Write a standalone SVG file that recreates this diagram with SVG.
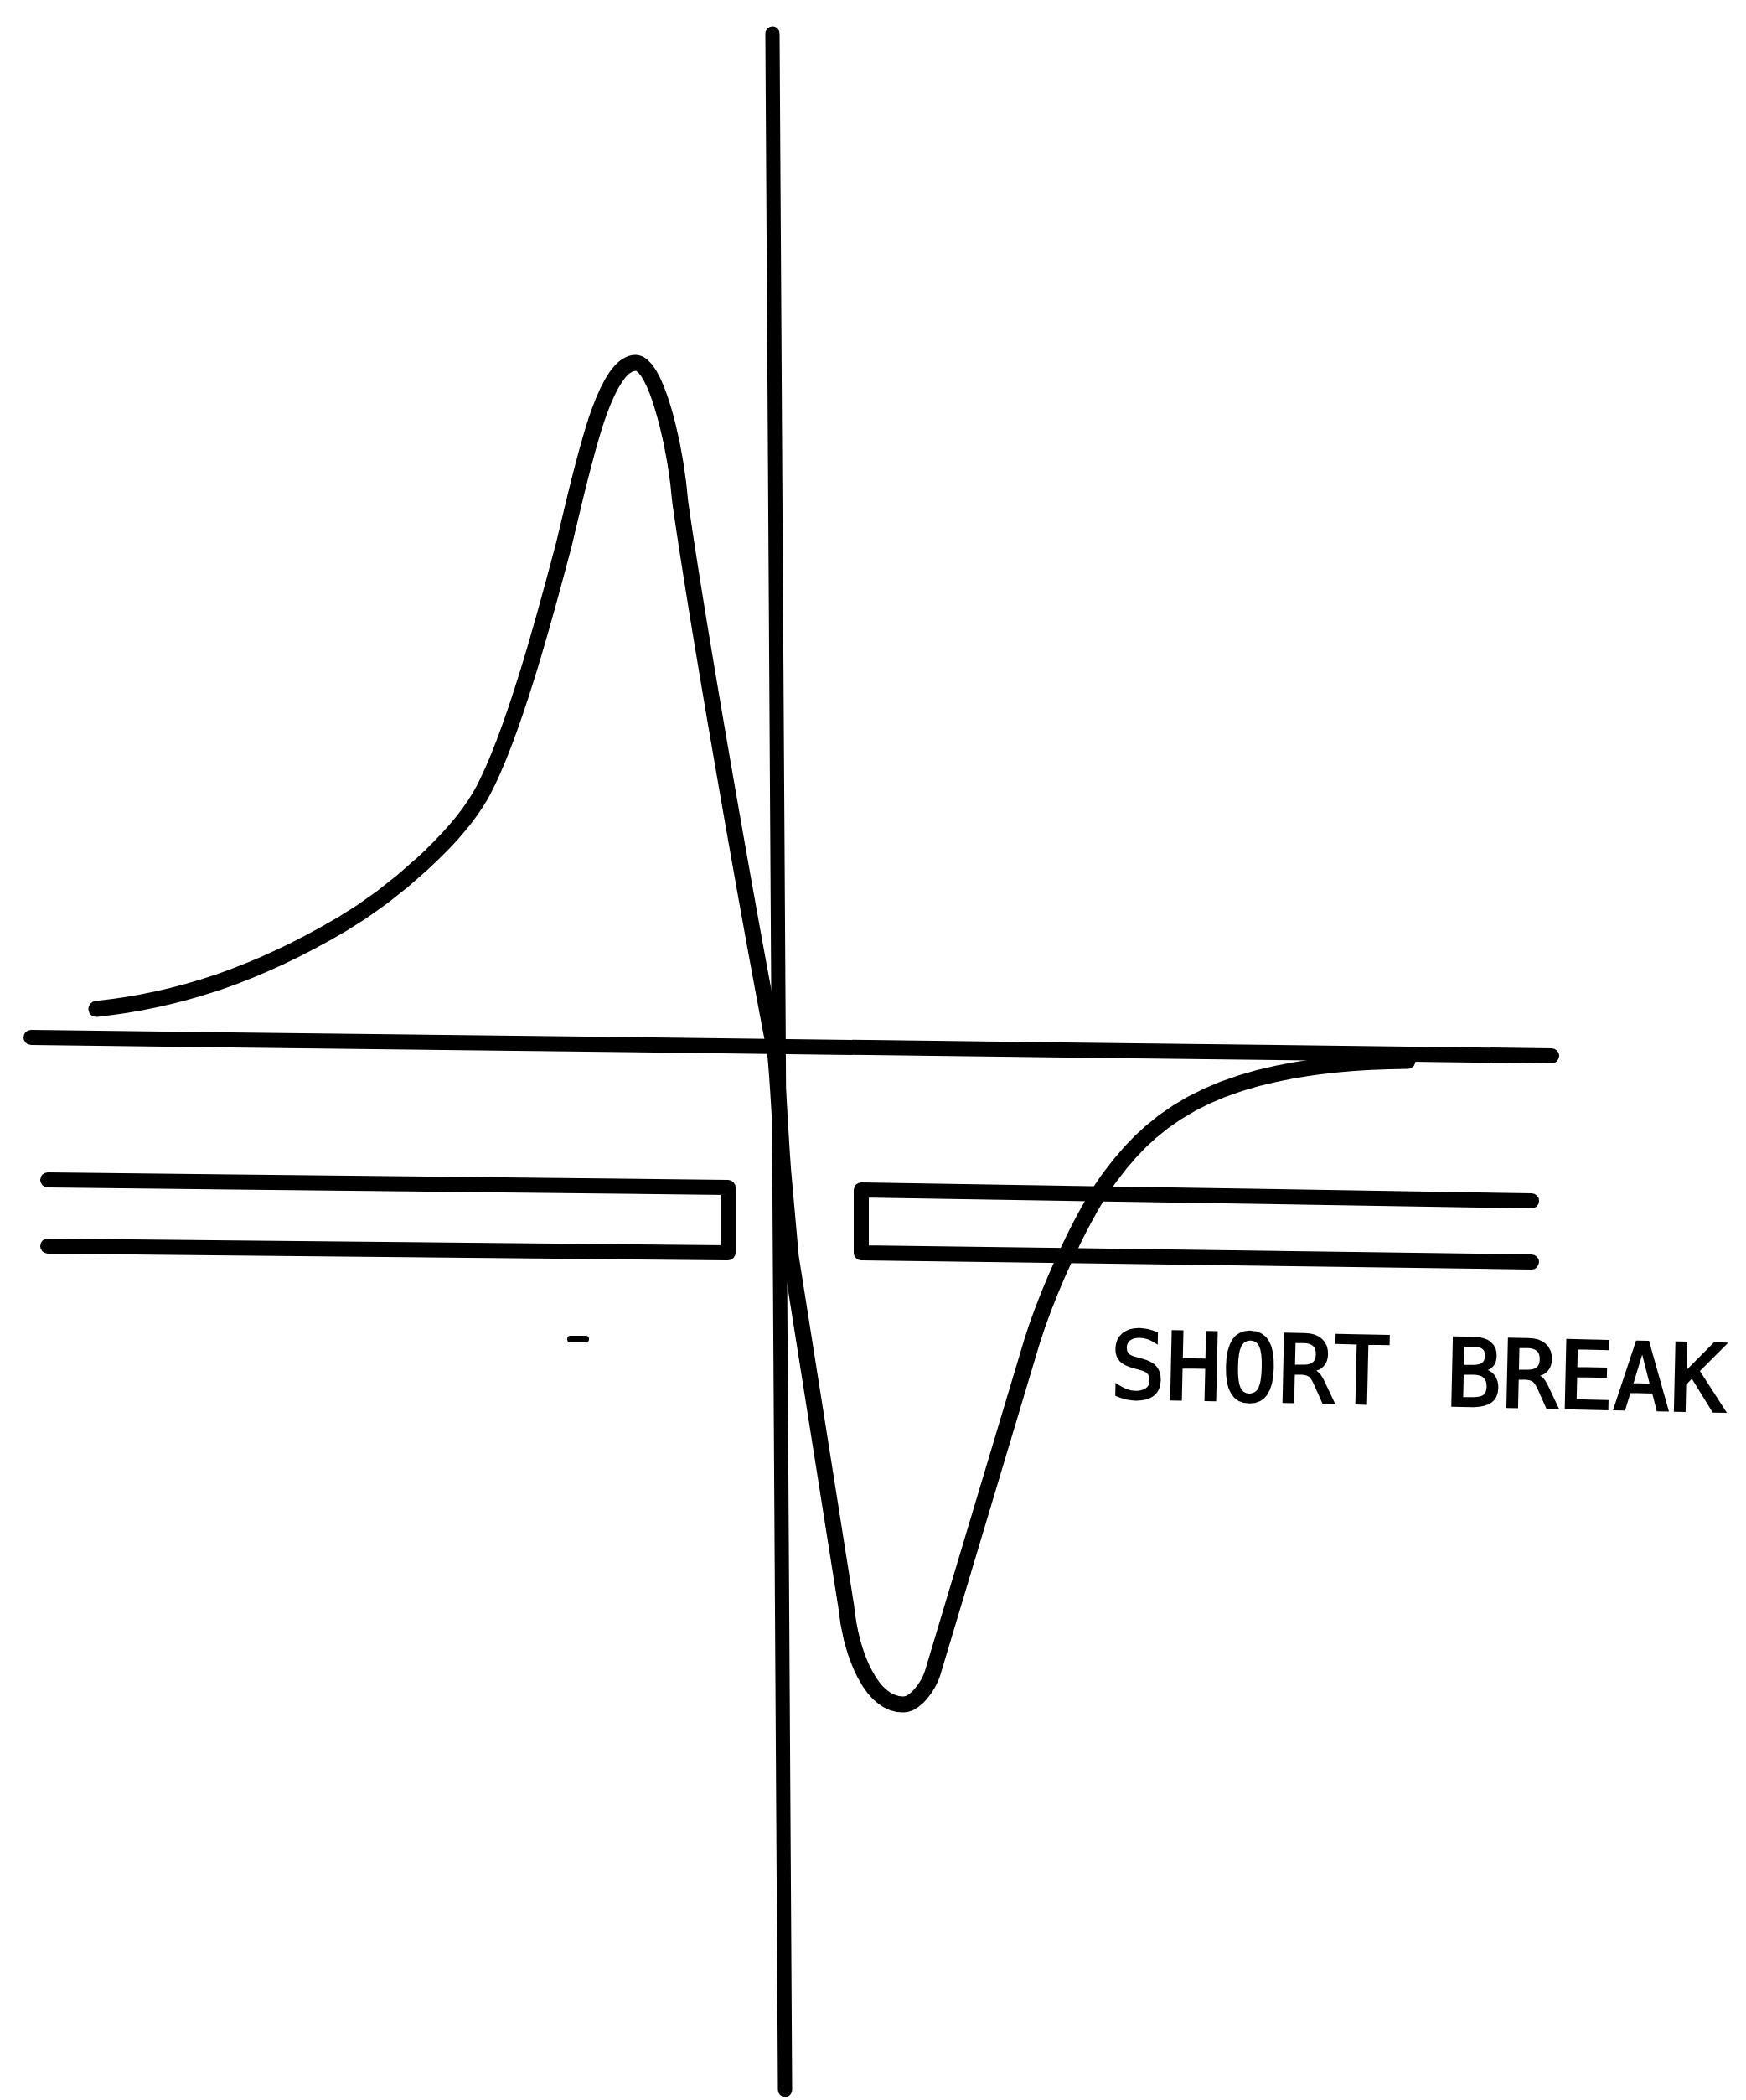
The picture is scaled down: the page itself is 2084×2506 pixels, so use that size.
<svg xmlns="http://www.w3.org/2000/svg" width="2084" height="2506" viewBox="0 0 2084 2506">
<style>
.ln{fill:none;stroke:#000;stroke-linecap:round;stroke-linejoin:round}
.lbl{font-family:"DejaVu Sans Mono","Liberation Mono",monospace;font-size:111px;fill:#000;stroke:#000;stroke-width:3}
</style>
<rect width="2084" height="2506" fill="#fff"/>
<g id="axes">
<path class="ln" stroke-width="17" d="M922 40 L937 2494"/>
<path class="ln" stroke-width="18" d="M37 1238 L1852 1260"/>
</g>
<g id="left-plate">
<path class="ln" stroke-width="18" d="M57 1408 L869 1417 L869 1495 L57 1487"/>
</g>
<g id="right-plate">
<path class="ln" stroke-width="18" d="M1828 1433 L1028 1420 L1028 1495 L1828 1506"/>
</g>
<g id="curve">
<path class="ln" stroke-width="19" d="M115 1204 C215 1193.5 308 1162 408 1103 C468 1067.6 547 1000 577 943 C612 876.5 648 745 673 650 C695 560 720 433 759 433 C783 433 806 530 812 600 C835 760 895 1100 925 1255 C929 1290 931 1350 935 1400 L944 1500 L1010 1917 C1016 1975 1040 2034 1078 2034 C1093 2034 1108 2012 1113 1997 L1232 1600 C1251 1540 1292 1448 1326 1403 C1380 1330 1460 1268 1680 1266"/>
</g>
<g id="mark">
<path class="ln" stroke-width="8" d="M681 1598 L699 1598"/>
</g>
<g id="label">
<text class="lbl" x="1324" y="1668" transform="rotate(1.3 1330 1668)">SHORT BREAK</text>
</g>
</svg>
